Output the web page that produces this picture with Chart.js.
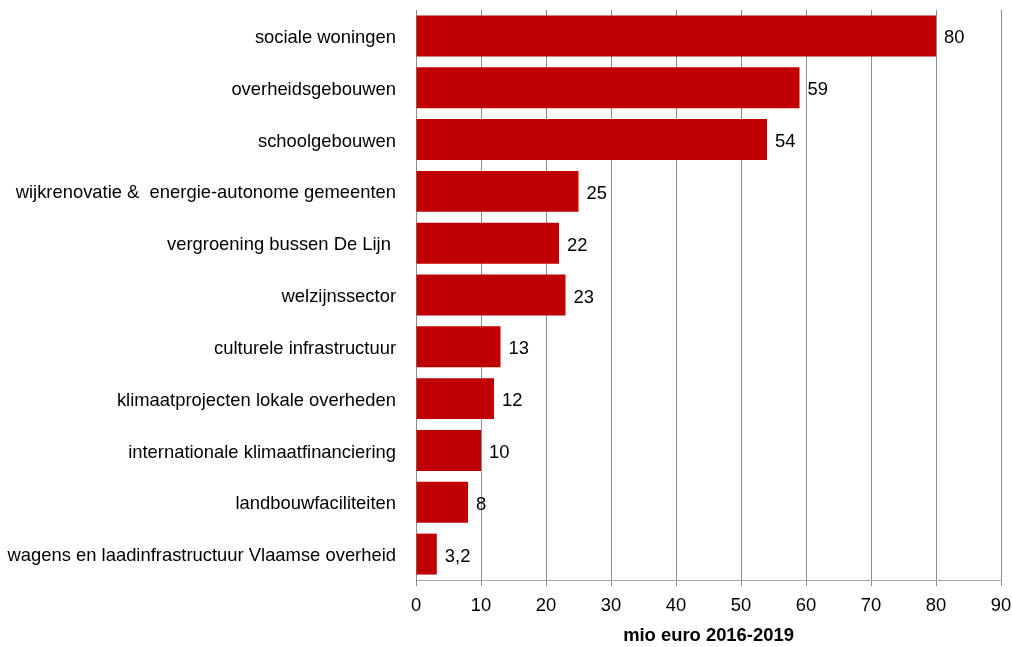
<!DOCTYPE html>
<html>
<head>
<meta charset="utf-8">
<script src="https://cdn.jsdelivr.net/npm/chart.js@4/dist/chart.umd.min.js"></script>
<style>
  html,body{margin:0;padding:0;background:#fff;}
  #wrap{width:1012px;height:647px;position:relative;}
</style>
</head>
<body>
<div id="wrap"><canvas id="c" width="1012" height="647"></canvas></div>
<script>
const categories = [
  "sociale woningen",
  "overheidsgebouwen",
  "schoolgebouwen",
  "wijkrenovatie &  energie-autonome gemeenten",
  "vergroening bussen De Lijn ",
  "welzijnssector",
  "culturele infrastructuur",
  "klimaatprojecten lokale overheden",
  "internationale klimaatfinanciering",
  "landbouwfaciliteiten",
  "wagens en laadinfrastructuur Vlaamse overheid"
];
const values = [80, 59, 54, 25, 22, 23, 13, 12, 10, 8, 3.2];
const valueLabels = ["80", "59", "54", "25", "22", "23", "13", "12", "10", "8", "3,2"];
const xTicks = [0, 10, 20, 30, 40, 50, 60, 70, 80, 90];
const xTitle = "mio euro 2016-2019";

const FONT = "'Liberation Sans', Arial, sans-serif";
const FS = 18.4;

const labelPlugin = {
  id: 'valueLabels',
  afterDatasetsDraw(chart) {
    const ctx = chart.ctx;
    const meta = chart.getDatasetMeta(0);
    ctx.save();
    ctx.font = FS + "px " + FONT;
    ctx.fillStyle = "#000";
    ctx.textAlign = "left";
    ctx.textBaseline = "middle";
    meta.data.forEach((bar, i) => {
      ctx.fillText(valueLabels[i], bar.x + 8, bar.y + 2.5);
    });
    ctx.restore();
  }
};

new Chart(document.getElementById('c'), {
  type: 'bar',
  data: {
    labels: categories,
    datasets: [{
      data: values,
      backgroundColor: '#C00000',
      borderWidth: 0,
      barPercentage: 0.79,
      categoryPercentage: 1.0
    }]
  },
  options: {
    indexAxis: 'y',
    responsive: false,
    animation: false,
    devicePixelRatio: 1,
    layout: { padding: { top: 10, right: 11, left: 0, bottom: 0 } },
    plugins: { legend: { display: false }, tooltip: { enabled: false } },
    scales: {
      x: {
        min: 0, max: 90,
        afterBuildTicks(scale) { scale.ticks = xTicks.map(v => ({ value: v })); },
        afterFit(scale) { scale.height = 67; scale.paddingLeft = 0; scale.paddingRight = 0; },
        grid: { color: '#8c8c8c', lineWidth: 1, tickLength: 6, drawTicks: true },
        border: { color: '#a6a6a6', width: 1 },
        ticks: { color: '#000', font: { family: FONT, size: FS }, padding: 9, autoSkip: false, maxRotation: 0 },
        title: { display: true, text: xTitle, color: '#000', font: { family: FONT, size: FS, weight: 'bold' }, padding: { top: 0, bottom: 0 } }
      },
      y: {
        afterFit(scale) { scale.width = 416; scale.paddingTop = 0; scale.paddingBottom = 0; },
        grid: { display: false, drawTicks: false },
        border: { display: true, color: '#8c8c8c', width: 1 },
        ticks: { color: '#000', font: { family: FONT, size: FS }, padding: 20, autoSkip: false, labelOffset: 2 }
      }
    }
  },
  plugins: [labelPlugin]
});
</script>
</body>
</html>
